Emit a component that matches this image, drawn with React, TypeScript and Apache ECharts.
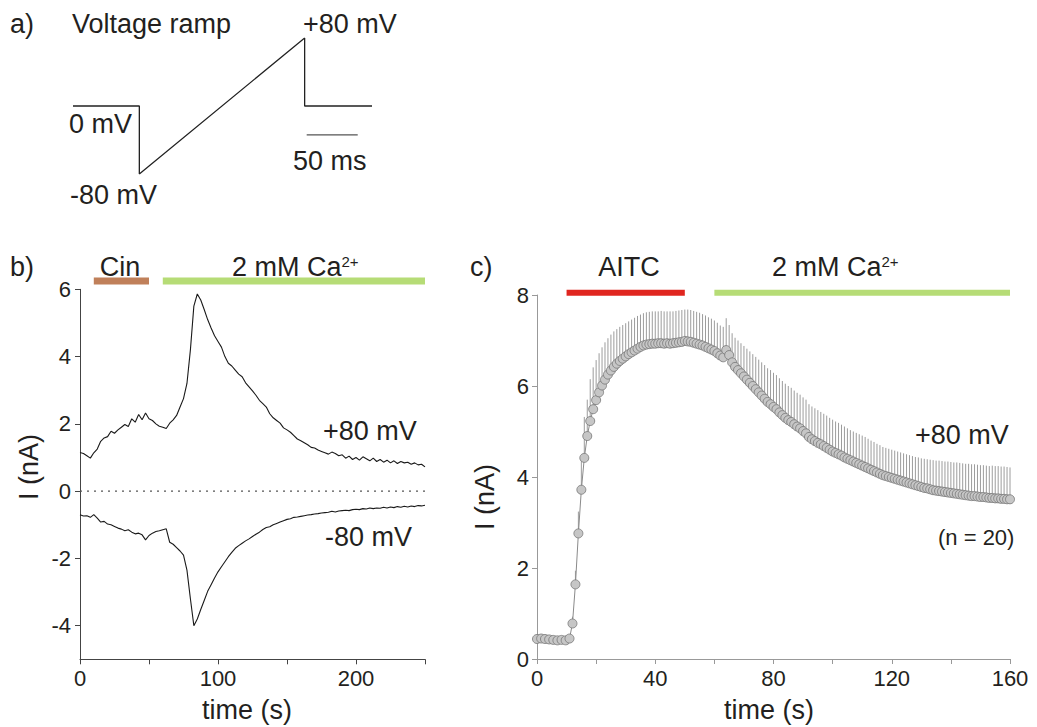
import React, { useEffect, useRef } from 'react';
import * as echarts from 'echarts';

const FONT = '"Liberation Sans", Arial, Helvetica, sans-serif';
const INK = '#231f20';

// ---------- Panel a: voltage protocol (ms, mV) ----------
const rampTime = [0, 65, 65, 227, 227, 293];
const rampVolt = [0, 0, -80, 80, 0, 0];
const scaleBarTime = [229, 279];
const scaleBarVolt = [-34, -34];

// ---------- Panel b: single-cell traces (s, nA) ----------
const bTime = [
  0, 2.5, 5, 7.5, 10, 12.5, 15, 17.5, 20, 22.5,
  25, 27.5, 30, 32.5, 35, 37.5, 40, 42.5, 45, 47.5,
  50, 52.5, 55, 57.5, 60, 62.5, 65, 67.5, 70, 72.5,
  75, 77.5, 80, 82.5, 85, 87.5, 90, 92.5, 95, 97.5,
  100, 102.5, 105, 107.5, 110, 112.5, 115, 117.5, 120, 122.5,
  125, 127.5, 130, 132.5, 135, 137.5, 140, 142.5, 145, 147.5,
  150, 152.5, 155, 157.5, 160, 162.5, 165, 167.5, 170, 172.5,
  175, 177.5, 180, 182.5, 185, 187.5, 190, 192.5, 195, 197.5,
  200, 202.5, 205, 207.5, 210, 212.5, 215, 217.5, 220, 222.5,
  225, 227.5, 230, 232.5, 235, 237.5, 240, 242.5, 245, 247.5,
  250,
];
const bPlus80 = [
  1.15, 1.12, 1.05, 0.98, 1.14, 1.25, 1.48, 1.58, 1.62, 1.78,
  1.72, 1.82, 1.90, 1.98, 1.92, 2.15, 2.05, 2.28, 2.12, 2.32,
  2.15, 2.10, 2.00, 1.93, 1.90, 1.86, 2.02, 2.12, 2.25, 2.50,
  2.75, 3.20, 4.20, 5.50, 5.86, 5.68, 5.40, 5.10, 4.85, 4.62,
  4.45, 4.28, 4.00, 3.80, 3.72, 3.60, 3.48, 3.40, 3.22, 3.10,
  2.98, 2.85, 2.70, 2.60, 2.50, 2.30, 2.18, 2.10, 2.02, 1.88,
  1.82, 1.75, 1.65, 1.55, 1.50, 1.44, 1.38, 1.30, 1.28, 1.22,
  1.18, 1.14, 1.10, 1.16, 1.12, 1.05, 1.08, 0.98, 1.04, 0.94,
  1.00, 0.92, 1.02, 0.96, 0.90, 0.98, 0.88, 0.94, 0.86, 0.92,
  0.84, 0.90, 0.82, 0.88, 0.84, 0.86, 0.80, 0.84, 0.78, 0.80,
  0.72,
];
const bMinus80 = [
  -0.70, -0.74, -0.73, -0.78, -0.70, -0.80, -0.92, -0.90, -0.98, -1.00,
  -1.05, -1.10, -1.13, -1.18, -1.15, -1.22, -1.27, -1.25, -1.30, -1.45,
  -1.32, -1.25, -1.20, -1.18, -1.15, -1.12, -1.52, -1.58, -1.68, -1.78,
  -1.90, -2.35, -3.20, -4.00, -3.80, -3.52, -3.25, -2.98, -2.78, -2.58,
  -2.40, -2.25, -2.10, -1.95, -1.82, -1.70, -1.62, -1.55, -1.48, -1.42,
  -1.35, -1.28, -1.22, -1.14, -1.08, -1.06, -1.00, -0.96, -0.92, -0.88,
  -0.84, -0.82, -0.78, -0.77, -0.75, -0.73, -0.71, -0.70, -0.68, -0.67,
  -0.65, -0.64, -0.63, -0.60, -0.62, -0.59, -0.58, -0.57, -0.58, -0.55,
  -0.54, -0.55, -0.52, -0.53, -0.50, -0.52, -0.50, -0.51, -0.48, -0.50,
  -0.47, -0.49, -0.46, -0.48, -0.45, -0.47, -0.44, -0.46, -0.43, -0.44,
  -0.42,
];
const cinRange = [10, 50];
const caRangeB = [60, 250];
const bYTicks = [-4, -2, 0, 2, 4, 6];
const bZeroRange = [0, 250];

// ---------- Panel c: mean +/- SEM (s, nA) ----------
const cTime = [
  0, 1.4, 2.7, 4.1, 5.5, 6.9, 8.3, 9.7, 11,
  12, 13, 14, 15, 16, 17, 18, 19, 20, 21,
  22, 23, 24, 25, 26, 27, 28, 29, 30, 31,
  32, 33, 34, 35, 36, 37, 38, 39, 40, 41,
  42, 43, 44, 45, 46, 47, 48, 49, 50, 51,
  52, 53, 54, 55, 56, 57, 58, 59, 60, 61,
  62, 63, 64, 65, 66, 67, 68, 69, 70, 71,
  72, 73, 74, 75, 76, 77, 78, 79, 80, 81,
  82, 83, 84, 85, 86, 87, 88, 89, 90, 91,
  92, 93, 94, 95, 96, 97, 98, 99, 100, 101,
  102, 103, 104, 105, 106, 107, 108, 109, 110, 111,
  112, 113, 114, 115, 116, 117, 118, 119, 120, 121,
  122, 123, 124, 125, 126, 127, 128, 129, 130, 131,
  132, 133, 134, 135, 136, 137, 138, 139, 140, 141,
  142, 143, 144, 145, 146, 147, 148, 149, 150, 151,
  152, 153, 154, 155, 156, 157, 158, 159, 160,
];
const cMean = [
  0.44, 0.45, 0.44, 0.43, 0.42, 0.41, 0.42, 0.41, 0.45,
  0.78, 1.64, 2.76, 3.72, 4.42, 4.90, 5.23, 5.49, 5.69, 5.86,
  6.01, 6.14, 6.25, 6.34, 6.42, 6.49, 6.55, 6.60, 6.65, 6.70,
  6.74, 6.78, 6.82, 6.86, 6.89, 6.91, 6.92, 6.93, 6.93, 6.94,
  6.94, 6.93, 6.94, 6.93, 6.94, 6.95, 6.96, 6.97, 6.99, 6.98,
  6.97, 6.95, 6.93, 6.91, 6.89, 6.86, 6.83, 6.80, 6.77, 6.72,
  6.67, 6.63, 6.79, 6.68, 6.52, 6.42, 6.35, 6.28, 6.21, 6.14,
  6.07, 6.00, 5.93, 5.86, 5.79, 5.72, 5.65, 5.60, 5.54, 5.49,
  5.42, 5.36, 5.30, 5.25, 5.21, 5.16, 5.11, 5.07, 5.01, 4.96,
  4.88, 4.83, 4.79, 4.75, 4.72, 4.68, 4.64, 4.60, 4.56, 4.53,
  4.50, 4.47, 4.43, 4.40, 4.37, 4.34, 4.31, 4.28, 4.25, 4.22,
  4.19, 4.16, 4.13, 4.10, 4.07, 4.04, 4.02, 4.00, 3.98, 3.96,
  3.94, 3.92, 3.90, 3.88, 3.86, 3.84, 3.82, 3.80, 3.78, 3.76,
  3.75, 3.73, 3.71, 3.70, 3.69, 3.68, 3.67, 3.66, 3.65, 3.64,
  3.63, 3.62, 3.61, 3.60, 3.59, 3.58, 3.58, 3.57, 3.56, 3.56,
  3.55, 3.54, 3.54, 3.53, 3.53, 3.52, 3.52, 3.51, 3.51,
];
const cSem = [
  0.03, 0.03, 0.03, 0.03, 0.03, 0.03, 0.03, 0.03, 0.03,
  0.15, 0.30, 0.48, 0.70, 0.90, 0.80, 0.92, 0.92, 0.88, 0.86,
  0.84, 0.82, 0.80, 0.79, 0.78, 0.76, 0.75, 0.74, 0.73, 0.72,
  0.72, 0.72, 0.72, 0.71, 0.71, 0.71, 0.71, 0.71, 0.71, 0.70,
  0.71, 0.71, 0.70, 0.71, 0.70, 0.70, 0.70, 0.70, 0.69, 0.70,
  0.70, 0.70, 0.70, 0.70, 0.69, 0.69, 0.68, 0.68, 0.67, 0.67,
  0.66, 0.67, 0.70, 0.66, 0.64, 0.64, 0.65, 0.66, 0.67, 0.68,
  0.69, 0.70, 0.71, 0.72, 0.73, 0.74, 0.74, 0.75, 0.75, 0.75,
  0.75, 0.75, 0.75, 0.75, 0.75, 0.74, 0.74, 0.74, 0.74, 0.74,
  0.72, 0.72, 0.72, 0.72, 0.71, 0.71, 0.71, 0.70, 0.70, 0.69,
  0.69, 0.68, 0.68, 0.67, 0.66, 0.66, 0.66, 0.66, 0.66, 0.66,
  0.65, 0.64, 0.64, 0.63, 0.63, 0.62, 0.62, 0.62, 0.62, 0.62,
  0.62, 0.62, 0.62, 0.62, 0.62, 0.62, 0.62, 0.63, 0.63, 0.64,
  0.64, 0.65, 0.66, 0.66, 0.67, 0.67, 0.67, 0.68, 0.68, 0.68,
  0.69, 0.69, 0.69, 0.69, 0.70, 0.70, 0.70, 0.70, 0.70, 0.70,
  0.70, 0.70, 0.71, 0.71, 0.71, 0.71, 0.71, 0.71, 0.70,
];
const aitcRange = [10, 50];
const caRangeC = [60, 160];

// ---------- helpers ----------
const zip = (xs: number[], ys: number[]) => xs.map((x, i) => [x, ys[i]]);

type TxtOpts = { size?: number; align?: string; rotation?: number; rich?: any };
const txt = (text: string, x: number, y: number, o: TxtOpts = {}) => ({
  type: 'text',
  x,
  y,
  rotation: o.rotation || 0,
  silent: true,
  style: {
    text,
    fill: INK,
    fontSize: o.size || 27,
    fontFamily: FONT,
    align: o.align || 'left',
    textAlign: o.align || 'left',
    verticalAlign: 'middle',
    textVerticalAlign: 'middle',
    rich: o.rich,
  },
});

const supRich = {
  sup: { fontSize: 15, fontFamily: FONT, fill: INK, verticalAlign: 'top' },
};

const barSeries = (range: number[], yLevel: number, color: string, xi: number, w: number) => ({
  type: 'line',
  xAxisIndex: xi,
  yAxisIndex: xi,
  data: [[range[0], yLevel], [range[1], yLevel]],
  symbol: 'none',
  clip: false,
  silent: true,
  lineStyle: { color, width: w, cap: 'butt' },
  z: 5,
});

const axisCommon = (color: string) => ({
  axisLine: { show: true, onZero: false, lineStyle: { color, width: 1 } },
  axisTick: { show: true, length: 5, inside: false, lineStyle: { color, width: 1 } },
  splitLine: { show: false },
});

const option: any = {
  animation: false,
  backgroundColor: '#ffffff',
  textStyle: { fontFamily: FONT },
  grid: [
    { left: 73, top: 38, width: 299, height: 136 },
    { left: 80, top: 289.3, width: 345, height: 370 },
    { left: 537, top: 295, width: 473, height: 364 },
  ],
  xAxis: [
    { type: 'value', gridIndex: 0, min: 0, max: 293, show: false },
    {
      type: 'value', gridIndex: 1, min: 0, max: 250, interval: 50,
      ...axisCommon('#444'),
      axisLabel: {
        fontSize: 22, color: INK, fontFamily: FONT, margin: 8,
        formatter: (v: number) => (v % 100 === 0 ? String(v) : ''),
      },
    },
    {
      type: 'value', gridIndex: 2, min: 0, max: 160, interval: 20,
      ...axisCommon('#999'),
      axisLabel: {
        fontSize: 22, color: INK, fontFamily: FONT, margin: 8,
        formatter: (v: number) => (v % 40 === 0 ? String(v) : ''),
      },
    },
  ],
  yAxis: [
    { type: 'value', gridIndex: 0, min: -80, max: 80, show: false },
    {
      type: 'value', gridIndex: 1, min: -5, max: 6,
      ...axisCommon('#444'),
      axisTick: { show: true, length: 5, lineStyle: { color: '#444', width: 1 }, customValues: bYTicks },
      axisLabel: { fontSize: 22, color: INK, fontFamily: FONT, margin: 9, customValues: bYTicks },
    },
    {
      type: 'value', gridIndex: 2, min: 0, max: 8, interval: 2,
      ...axisCommon('#999'),
      axisLabel: { fontSize: 22, color: INK, fontFamily: FONT, margin: 8 },
    },
  ],
  series: [
    // panel a
    {
      type: 'line', xAxisIndex: 0, yAxisIndex: 0, data: zip(rampTime, rampVolt),
      symbol: 'none', silent: true, lineStyle: { color: '#222', width: 1.3 },
    },
    {
      type: 'line', xAxisIndex: 0, yAxisIndex: 0, data: zip(scaleBarTime, scaleBarVolt),
      symbol: 'none', silent: true, lineStyle: { color: '#555', width: 1.3 },
    },
    // panel b: dotted zero reference
    {
      type: 'line', xAxisIndex: 1, yAxisIndex: 1,
      data: [[bZeroRange[0], 0], [bZeroRange[1], 0]],
      symbol: 'none', silent: true, z: 1,
      lineStyle: { color: '#555', width: 1.2, type: [2, 5] },
    },
    {
      type: 'line', xAxisIndex: 1, yAxisIndex: 1, data: zip(bTime, bPlus80),
      symbol: 'none', silent: true, lineStyle: { color: '#1a1a1a', width: 1.1 },
    },
    {
      type: 'line', xAxisIndex: 1, yAxisIndex: 1, data: zip(bTime, bMinus80),
      symbol: 'none', silent: true, lineStyle: { color: '#1a1a1a', width: 1.1 },
    },
    barSeries(cinRange, 6.25, '#c0805a', 1, 7),
    barSeries(caRangeB, 6.25, '#b6dc76', 1, 7),
    // panel c
    {
      type: 'custom', xAxisIndex: 2, yAxisIndex: 2,
      data: cTime.map((t, i) => [t, cMean[i], cSem[i]]),
      encode: { x: 0, y: 1 },
      silent: true,
      z: 1,
      renderItem: (_p: any, api: any) => {
        const t = api.value(0);
        const m = api.value(1);
        const s = api.value(2);
        const a = api.coord([t, m]);
        const b = api.coord([t, m + s]);
        return {
          type: 'line',
          shape: { x1: a[0], y1: a[1], x2: b[0], y2: b[1] },
          style: { stroke: '#9c9c9c', lineWidth: 1 },
        };
      },
    },
    {
      type: 'line', xAxisIndex: 2, yAxisIndex: 2, data: zip(cTime, cMean),
      symbol: 'circle', symbolSize: 9, showAllSymbol: true, silent: true, z: 3,
      lineStyle: { color: '#8a8a8a', width: 1 },
      itemStyle: { color: '#c6c6c6', borderColor: '#767676', borderWidth: 0.8 },
    },
    barSeries(aitcRange, 8.05, '#e0261f', 2, 6),
    barSeries(caRangeC, 8.05, '#b6dc76', 2, 6),
  ],
  graphic: [
    // panel a
    txt('a)', 10, 24),
    txt('Voltage ramp', 72, 24),
    txt('+80 mV', 303, 24),
    txt('0 mV', 69, 124),
    txt('-80 mV', 70, 195),
    txt('50 ms', 293, 161),
    // panel b
    txt('b)', 10, 267),
    txt('Cin', 120, 267, { align: 'center' }),
    txt('2 mM Ca{sup|2+}', 232, 267, { rich: supRich }),
    txt('+80 mV', 323, 431),
    txt('-80 mV', 325, 537),
    txt('time (s)', 247, 710, { align: 'center' }),
    txt('I (nA)', 29, 467, { align: 'center', rotation: Math.PI / 2 }),
    // panel c
    txt('c)', 470, 267),
    txt('AITC', 629, 267, { align: 'center' }),
    txt('2 mM Ca{sup|2+}', 772, 267, { rich: supRich }),
    txt('+80 mV', 915, 435),
    txt('(n = 20)', 938, 537, { size: 22 }),
    txt('time (s)', 769, 710, { align: 'center' }),
    txt('I (nA)', 485, 497, { align: 'center', rotation: Math.PI / 2 }),
  ],
};

export default function App() {
  const ref = useRef<HTMLDivElement>(null);
  useEffect(() => {
    if (!ref.current) return;
    const chart = echarts.init(ref.current, null, { renderer: 'svg' });
    chart.setOption(option);
    return () => chart.dispose();
  }, []);
  return (
    <div
      ref={ref}
      style={{ position: 'fixed', left: 0, top: 0, width: 1037, height: 727, background: '#fff' }}
    />
  );
}
